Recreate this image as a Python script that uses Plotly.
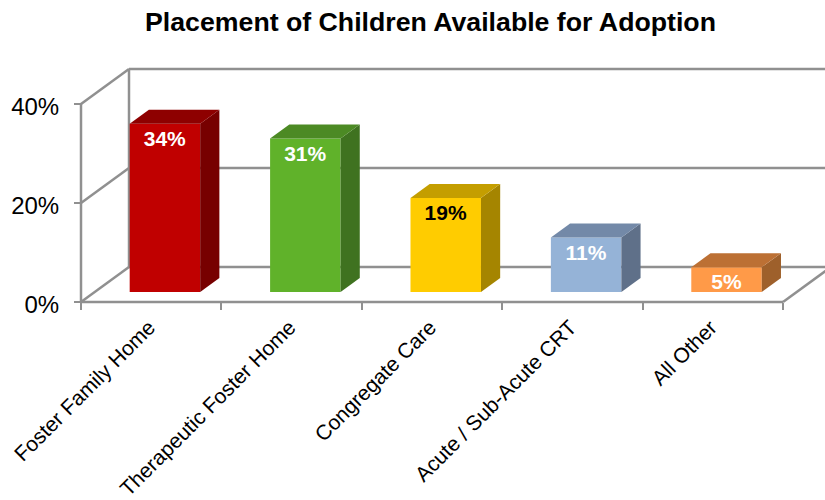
import plotly.graph_objects as go

categories = ["Foster Family Home", "Therapeutic Foster Home", "Congregate Care", "Acute / Sub-Acute CRT", "All Other"]
values = [34, 31, 19, 11, 5]
y_ticks = [0, 20, 40]

front_colors = ["#C00000", "#60B22A", "#FFCC00", "#95B3D7", "#FF9A48"]
top_colors = ["#8E0000", "#4C8A24", "#C49E00", "#7389A8", "#BC7034"]
side_colors = ["#770000", "#3F7220", "#A58500", "#5F7089", "#9E602B"]
label_colors = ["white", "white", "black", "white", "white"]

W, H = 825, 500
PX_X, PX_Y = 140.4, 4.95       # pixels per category / per percent
AX_L, AX_B = 81.0, 302.0       # pixel position of the front-left corner
DEPTH_X, DEPTH_Y = 48.0, 35.0  # pixel offset of the back wall
BAR_D0, BAR_D1 = 0.286, 0.686  # depth span of the bars
BAR_W = 0.502
GRAY = "#909090"

ML, MB = 70, 185
x_range = [-0.5 - (AX_L - ML) / PX_X, -0.5 + (W - AX_L) / PX_X]
y_range = [-(H - MB - AX_B) / PX_Y, AX_B / PX_Y]


def px(x, v, d):
    """Data coordinates of a point at category x, value v, depth d (0 front, 1 back)."""
    return x + d * DEPTH_X / PX_X, v + d * DEPTH_Y / PX_Y


fig = go.Figure()

fig.add_trace(go.Bar(
    x=[i + BAR_D0 * DEPTH_X / PX_X for i in range(len(values))],
    y=values,
    base=BAR_D0 * DEPTH_Y / PX_Y,
    width=BAR_W,
    marker=dict(color=front_colors, line=dict(width=0)),
    text=[f"<b>{v}%</b>" for v in values],
    textposition="inside",
    insidetextanchor="end",
    textangle=0,
    constraintext="none",
    textfont=dict(family="Liberation Sans", size=21, color=label_colors),
    hoverinfo="skip",
))

for i, v in enumerate(values):
    l, r = i - BAR_W / 2, i + BAR_W / 2
    side = [px(r, 0, BAR_D0), px(r, v, BAR_D0), px(r, v, BAR_D1), px(r, 0, BAR_D1)]
    top = [px(l, v, BAR_D0), px(r, v, BAR_D0), px(r, v, BAR_D1), px(l, v, BAR_D1)]
    for pts, col in ((side, side_colors[i]), (top, top_colors[i])):
        fig.add_trace(go.Scatter(
            x=[p[0] for p in pts], y=[p[1] for p in pts],
            mode="lines", fill="toself", fillcolor=col,
            line=dict(width=0, color=col), hoverinfo="skip",
        ))

x0, x1 = -0.5, len(categories) - 0.5
shapes = []


def seg(a, b):
    shapes.append(dict(type="line", xref="x", yref="y", layer="below",
                       x0=a[0], y0=a[1], x1=b[0], y1=b[1],
                       line=dict(color=GRAY, width=2.5)))


for t in y_ticks:
    seg(px(x0, t, 0), px(x0, t, 1))
    seg(px(x0, t, 1), px(x1, t, 1))
seg(px(x0, 0, 0), px(x0, max(y_ticks), 0))
seg(px(x0, 0, 1), px(x0, max(y_ticks), 1))
seg(px(x0, 0, 0), px(x1, 0, 0))
seg(px(x1, 0, 0), px(x1, 0, 1))

fig.update_layout(
    width=W, height=H,
    margin=dict(l=ML, r=0, t=0, b=MB, autoexpand=False),
    paper_bgcolor="white", plot_bgcolor="white",
    showlegend=False,
    font=dict(family="Liberation Sans", color="black"),
    title=dict(text="<b>Placement of Children Available for Adoption</b>",
               x=430.5 / W, y=1 - 22 / H, xanchor="center", yanchor="middle",
               xref="container", yref="container",
               font=dict(family="Liberation Sans", size=26.7, color="black")),
    shapes=shapes,
    xaxis=dict(
        range=x_range, anchor="free",
        position=(H - MB - AX_B) / (H - MB),
        showgrid=False, zeroline=False, showline=False,
        tickmode="array", tickvals=list(range(len(categories))), ticktext=categories,
        tickangle=-45, ticks="", ticklen=0,
        tickfont=dict(family="Liberation Sans", size=21, color="black"),
        ticklabelstandoff=8, ticklabelshift=-2,
        minor=dict(tickmode="array", tickvals=[x0 + i for i in range(len(categories) + 1)],
                   ticks="outside", ticklen=7, tickwidth=2, tickcolor=GRAY, showgrid=False),
    ),
    yaxis=dict(
        range=y_range, anchor="free",
        position=(AX_L - ML) / (W - ML),
        showgrid=False, zeroline=False, showline=False,
        tickmode="array", tickvals=y_ticks, ticktext=[f"{t}%" for t in y_ticks],
        ticks="outside", ticklen=7, tickwidth=2, tickcolor=GRAY,
        ticklabelstandoff=10, ticklabelshift=3,
        tickfont=dict(family="Liberation Sans", size=24, color="black"),
    ),
)

fig.write_html("out.html", config={"displayModeBar": False},
               post_script="document.body.style.margin='0';")
